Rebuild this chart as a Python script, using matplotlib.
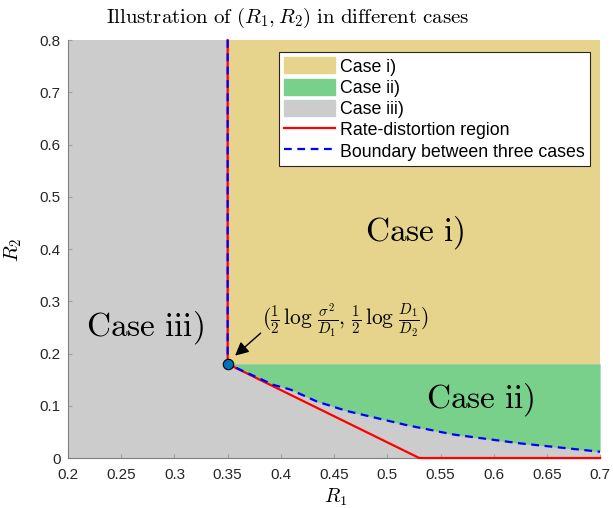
import numpy as np
import matplotlib
matplotlib.use("Agg")
import matplotlib.pyplot as plt
from matplotlib.patches import Patch
from matplotlib.lines import Line2D

plt.rcParams['mathtext.fontset'] = 'cm'
plt.rcParams['font.family'] = ['Liberation Sans', 'DejaVu Sans']

# ---- data ----
corner = (0.35, 0.18)
x_lim = (0.2, 0.7)
y_lim = (0.0, 0.8)
boundary_x = [0.35, 0.393, 0.409, 0.434, 0.462, 0.518, 0.562, 0.625, 0.7]
boundary_y = [0.18, 0.14, 0.131, 0.108, 0.09, 0.063, 0.045, 0.028, 0.012]
rd_x = [0.35, 0.35, 0.53, 0.7]
rd_y = [0.8, 0.18, 0.0, 0.0]
xticks = [0.2, 0.25, 0.3, 0.35, 0.4, 0.45, 0.5, 0.55, 0.6, 0.65, 0.7]
yticks = [0, 0.1, 0.2, 0.3, 0.4, 0.5, 0.6, 0.7, 0.8]

c_gold = '#e6d38c'
c_green = '#78d08a'
c_gray = '#cccccc'
dash = (0, (3.5, 2.5))

fig = plt.figure(figsize=(6.13, 5.08), dpi=100)
ax = fig.add_axes([0.111, 0.0984, 0.868, 0.8228])
ax.set_facecolor(c_gray)

# regions
ax.fill_between([corner[0], x_lim[1]], corner[1], y_lim[1], color=c_gold, lw=0)
ax.fill_between(boundary_x, boundary_y, corner[1], color=c_green, lw=0)

# rate-distortion region and boundary
ax.plot(rd_x, rd_y, color='red', lw=1.6, zorder=3, clip_on=False)
bx = [corner[0]] + boundary_x
by = [y_lim[1]] + boundary_y
ax.plot(bx, by, color='blue', lw=1.6, ls=dash, zorder=4)
ax.plot(corner[0], corner[1], 'o', ms=7.5, mfc='#0072bd', mec='k', mew=0.8, zorder=5)

# annotation
ax.text(0.382, 0.263, r'$(\frac{1}{2}\,\log\,\frac{\sigma^2}{D_1},\,\frac{1}{2}\,\log\,\frac{D_1}{D_2})$',
        fontsize=15.5, ha='left', va='center', zorder=6)
ax.annotate('', xy=(0.357, 0.196), xytext=(0.381, 0.239),
            arrowprops=dict(arrowstyle='-|>', color='k', lw=1.0,
                            mutation_scale=20, shrinkA=0, shrinkB=0),
            zorder=6)

ax.text(0.526, 0.431, r'$\mathrm{Case\ i)}$', fontsize=24, ha='center', va='center')
ax.text(0.587, 0.111, r'$\mathrm{Case\ ii)}$', fontsize=24, ha='center', va='center')
ax.text(0.272, 0.249, r'$\mathrm{Case\ iii)}$', fontsize=24, ha='center', va='center')

ax.set_xlim(*x_lim)
ax.set_ylim(*y_lim)
ax.set_xticks(xticks)
ax.set_yticks(yticks)
ax.set_xticklabels([f'{t:g}' for t in xticks])
ax.set_yticklabels([f'{t:g}' for t in yticks])
ax.tick_params(direction='in', length=3, color='#a0a0a0', labelcolor='#262626', labelsize=11)
ax.tick_params(axis='x', pad=7)
ax.tick_params(axis='y', pad=5.5)
for s in ['top', 'right']:
    ax.spines[s].set_visible(False)
for s in ['left', 'bottom']:
    ax.spines[s].set_color('#808080')
    ax.spines[s].set_linewidth(0.8)

ax.set_xlabel(r'$R_1$', fontsize=14.5)
ax.xaxis.set_label_coords(0.502, -0.068)
ax.set_ylabel(r'$R_2$', fontsize=15)
ax.yaxis.set_label_coords(-0.082, 0.498)
ax.set_title(r'$\mathrm{Illustration\ of\ }(R_1, R_2)\mathrm{\ in\ different\ cases}$',
             fontsize=15, x=0.412, pad=12)

handles = [Patch(color=c_gold, label='Case i)'),
           Patch(color=c_green, label='Case ii)'),
           Patch(color=c_gray, label='Case iii)'),
           Line2D([], [], color='red', lw=1.6, label='Rate-distortion region'),
           Line2D([], [], color='blue', lw=1.6, ls=dash, label='Boundary between three cases')]
leg = ax.legend(handles=handles, loc='upper right', bbox_to_anchor=(0.981, 0.971),
                fontsize=12.8, frameon=True, fancybox=False, edgecolor='#262626',
                facecolor='white', framealpha=1,
                handlelength=2.9, handleheight=1.0, handletextpad=0.25,
                labelspacing=0.18, borderpad=0.3, borderaxespad=0)
leg.get_frame().set_linewidth(0.8)

fig.savefig('out.png', dpi=100)
